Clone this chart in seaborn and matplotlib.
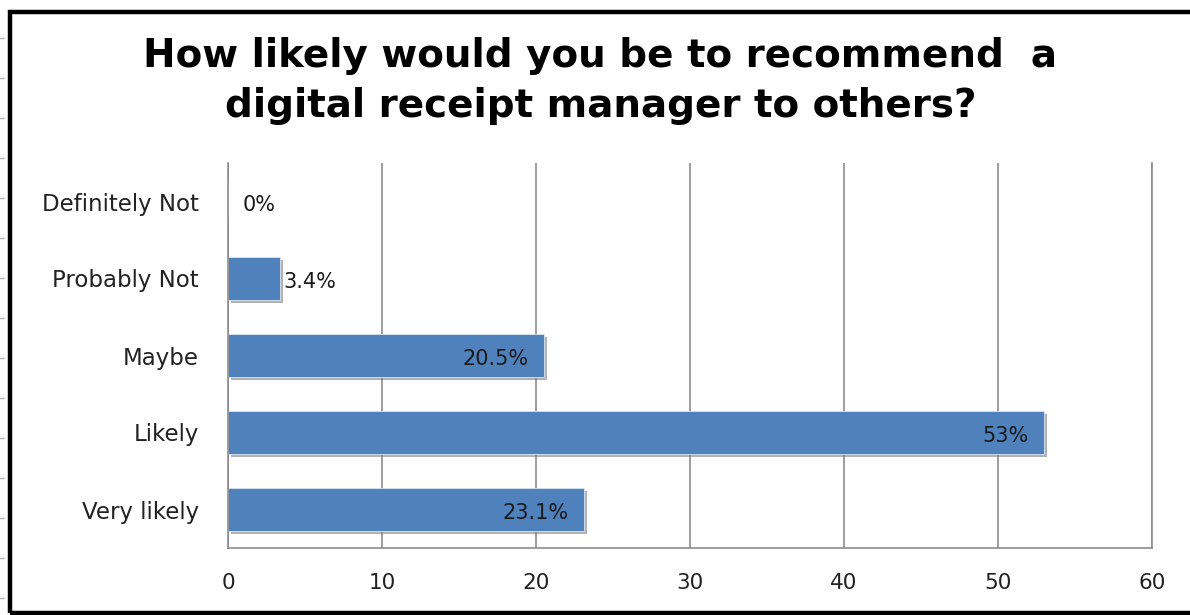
import matplotlib
matplotlib.use("Agg")
import matplotlib.pyplot as plt
import matplotlib.patheffects as pe
from matplotlib.patches import Rectangle
from matplotlib.lines import Line2D
import seaborn as sns
import pandas as pd

# Survey responses (% of respondents)
categories = ["Definitely Not", "Probably Not", "Maybe", "Likely", "Very likely"]
values = [0, 3.4, 20.5, 53, 23.1]
value_labels = ["0%", "3.4%", "20.5%", "53%", "23.1%"]
x_ticks = [0, 10, 20, 30, 40, 50, 60]

sns.set_theme(style="white")
plt.rcParams["font.family"] = ["DejaVu Sans"]

df = pd.DataFrame({"answer": categories, "pct": values})

W, H = 1190, 615
fig = plt.figure(figsize=(W / 100, H / 100), dpi=100)
fig.patch.set_facecolor("white")

# plot area in pixels: left 228, right 1152, top 163, bottom 548
ax = fig.add_axes([228 / W, 1 - 548 / H, (1152 - 228) / W, (548 - 163) / H])

bar_color = "#4F81BD"
sns.barplot(data=df, x="pct", y="answer", orient="h", color=bar_color,
            saturation=1, width=0.55, ax=ax, edgecolor="#dbe6f2", linewidth=0.6)

shadow = [pe.SimplePatchShadow(offset=(2.2, -2.2), shadow_rgbFace="#7f7f7f", alpha=0.6),
          pe.Normal()]
for p in ax.patches:
    p.set_path_effects(shadow)

ax.set_xlim(0, 60)
ax.set_xticks(x_ticks)
ax.set_xticklabels([str(t) for t in x_ticks])
ax.set_xlabel("")
ax.set_ylabel("")
ax.tick_params(axis="x", length=0, pad=18, labelsize=15.5, labelcolor="#222222")
ax.tick_params(axis="y", length=0, pad=21, labelsize=16.5, labelcolor="#222222")

ax.grid(axis="x", color="#8c8c8c", linewidth=1.2)
ax.set_axisbelow(True)
ax.spines["top"].set_visible(False)
for side in ["left", "bottom", "right"]:
    ax.spines[side].set_visible(True)
    ax.spines[side].set_color("#8c8c8c")
    ax.spines[side].set_linewidth(1.2)

# value labels: inside the bar end for long bars, outside for short ones
for i, (v, lab) in enumerate(zip(values, value_labels)):
    if v > 10:
        ax.text(v - 1.0, i + 0.04, lab, ha="right", va="center",
                fontsize=15, color="#1a1a1a")
    else:
        ax.text(v + 0.2 if v > 0 else 0.95, i + 0.04, lab, ha="left", va="center",
                fontsize=15, color="#1a1a1a")

fig.text(600 / W, 1 - 56 / H, "How likely would you be to recommend  a",
         ha="center", va="center", fontsize=28, fontweight="bold", color="black")
fig.text(601 / W, 1 - 106 / H, "digital receipt manager to others?",
         ha="center", va="center", fontsize=28, fontweight="bold", color="black")

# chart frame
fig.add_artist(Rectangle((10 / W, 2 / H), (W + 20) / W, (H - 14) / H,
                         transform=fig.transFigure, fill=False,
                         edgecolor="black", linewidth=3.2))

# small row marks outside the frame
for yy in range(38, 600, 40):
    fig.add_artist(Line2D([0, 4 / W], [1 - yy / H, 1 - yy / H],
                          transform=fig.transFigure, color="#b0b0b0", linewidth=1))

fig.savefig("out.png", dpi=100, facecolor="white")
